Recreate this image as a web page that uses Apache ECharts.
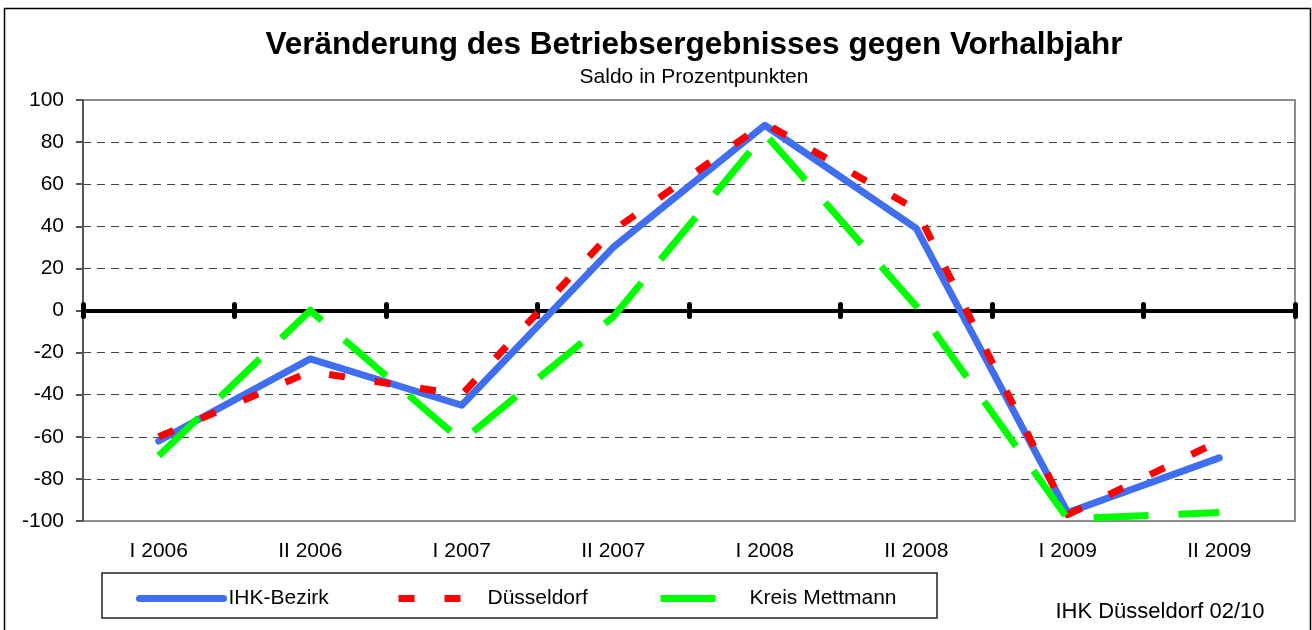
<!DOCTYPE html>
<html>
<head>
<meta charset="utf-8">
<script src="https://cdn.jsdelivr.net/npm/echarts@6/dist/echarts.min.js"></script>
<style>
  html, body { margin: 0; padding: 0; background: #fff; }
  #chart { width: 1312px; height: 630px; }
</style>
</head>
<body>
<div id="chart"></div>
<script>
// ── Daten ────────────────────────────────────────────────────────
const categories    = ['I 2006', 'II 2006', 'I 2007', 'II 2007', 'I 2008', 'II 2008', 'I 2009', 'II 2009']
const ihkBezirk     = [-62, -23, -45, 30, 88, 39, -96, -70]
const duesseldorf   = [-60, -29, -40, 38, 89, 48, -97, -62]
const kreisMettmann = [-69, 0, -62, -3, 84, 2, -99, -96]

const titleText    = 'Veränderung des Betriebsergebnisses gegen Vorhalbjahr'
const subtitleText = 'Saldo in Prozentpunkten'
const footerText   = 'IHK Düsseldorf 02/10'

const FONT = '"Liberation Sans", Arial, sans-serif'
const BLUE  = '#3f6ef0'
const RED   = '#ff0000'
const GREEN = '#00ff00'

const chart = echarts.init(document.getElementById('chart'), null, { renderer: 'canvas' })

// eine Legende pro Eintrag, damit die Abstände fest sind
const legendAt = (name, left) => ({
  data: [name],
  left,
  top: 588,
  padding: 0,
  itemWidth: 84,
  itemHeight: 14,
  selectedMode: false,
  lineStyle: { width: 7 },
  itemStyle: { opacity: 0 },   // kein Punkt-Symbol in der Legende
  textStyle: { fontFamily: FONT, fontSize: 21, color: '#000' },
})

// Nulllinie mit Strichen nach oben und unten
const zeroAxis = (position) => ({
  type: 'category',
  data: categories,
  position,
  axisLine: { onZero: true, onZeroAxisIndex: 0, lineStyle: { color: '#000', width: 4 } },
  axisTick: { show: true, interval: 0, length: 6, lineStyle: { color: '#000', width: 5, cap: 'round' } },
  axisLabel: { show: false },
  splitLine: { show: false },
})

const lineSeries = (name, data, color, dash, cap) => ({
  name,
  type: 'line',
  data,
  symbol: 'none',
  xAxisIndex: 0,
  yAxisIndex: 0,
  lineStyle: { color, width: 7, type: dash, cap, join: 'round' },
  itemStyle: { color },
})

chart.setOption({
  animation: false,
  backgroundColor: '#fff',
  textStyle: { fontFamily: FONT },
  grid: {
    left: 83, right: 17, top: 100, bottom: 109,
    show: true, borderColor: '#8c8c8c', borderWidth: 2,
  },
  legend: [
    legendAt('IHK-Bezirk', 136),
    legendAt('Düsseldorf', 395),
    legendAt('Kreis Mettmann', 657),
  ],
  xAxis: [
    {
      type: 'category',
      data: categories,
      position: 'bottom',
      axisLine: { show: false, onZero: false },
      axisTick: { show: false },
      axisLabel: { interval: 0, fontSize: 21, color: '#000', margin: 20 },
      splitLine: { show: false },
    },
    zeroAxis('bottom'),
    zeroAxis('top'),
  ],
  yAxis: {
    type: 'value',
    min: -100,
    max: 100,
    interval: 20,
    axisLine: { show: true, lineStyle: { color: '#555', width: 2 } },
    axisTick: { show: true, length: 7, lineStyle: { color: '#555', width: 2 } },
    axisLabel: { fontSize: 21, color: '#000', margin: 19 },
    splitLine: {
      show: true,
      showMinLine: false,
      showMaxLine: false,
      lineStyle: { color: '#444', width: 1, type: [8, 6] },
    },
  },
  series: [
    lineSeries('IHK-Bezirk', ihkBezirk, BLUE, 'solid', 'round'),
    lineSeries('Düsseldorf', duesseldorf, RED, [16, 30], 'butt'),
    lineSeries('Kreis Mettmann', kreisMettmann, GREEN, [55, 30], 'butt'),
  ],
  graphic: [
    {
      type: 'rect',
      shape: { x: 4.5, y: 8.5, width: 1306, height: 640 },
      style: { fill: 'none', stroke: '#000', lineWidth: 1.5 },
      z: -1,
    },
    {
      type: 'rect',
      shape: { x: 102, y: 573, width: 835, height: 45 },
      style: { fill: 'none', stroke: '#222', lineWidth: 1.5 },
    },
    {
      type: 'text',
      x: 694, y: 45,
      style: { text: titleText, fontFamily: FONT, fontSize: 31.5, fontWeight: 'bold', fill: '#000', align: 'center', verticalAlign: 'middle' },
    },
    {
      type: 'text',
      x: 694, y: 77,
      style: { text: subtitleText, fontFamily: FONT, fontSize: 21, fill: '#000', align: 'center', verticalAlign: 'middle' },
    },
    {
      type: 'text',
      x: 1160, y: 612,
      style: { text: footerText, fontFamily: FONT, fontSize: 22, fill: '#000', align: 'center', verticalAlign: 'middle' },
    },
  ],
})
</script>
</body>
</html>
